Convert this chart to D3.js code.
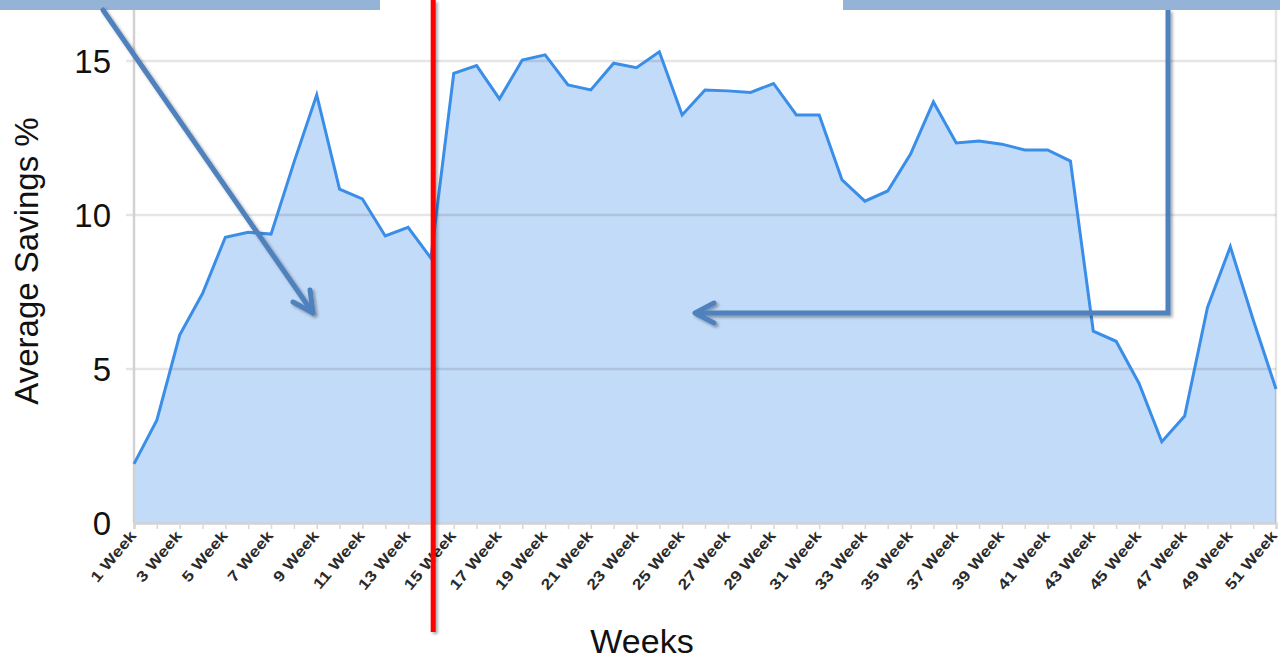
<!DOCTYPE html>
<html>
<head>
<meta charset="utf-8">
<script src="https://cdn.jsdelivr.net/npm/d3@7"></script>
<style>
  html, body { margin: 0; padding: 0; background: #fff; }
  svg { display: block; }
  text { font-family: "Liberation Sans", Arial, sans-serif; fill: #111; }
</style>
</head>
<body>
<svg id="chart" width="1280" height="659"></svg>
<script>
// ---- data ----
const weeks = d3.range(1, 52);
const savings = [
  1.92, 3.34, 6.1, 7.45, 9.28, 9.44, 9.38, 11.7, 13.9, 10.84,
  10.52, 9.32, 9.6, 8.6, 14.6, 14.85, 13.77, 15.03, 15.2, 14.22,
  14.06, 14.93, 14.78, 15.3, 13.25, 14.06, 14.03, 13.98, 14.27, 13.25,
  13.25, 11.14, 10.45, 10.78, 11.98, 13.67, 12.34, 12.4, 12.3, 12.11,
  12.11, 11.75, 6.23, 5.9, 4.54, 2.64, 3.47, 7.0, 8.97, 6.6,
  4.35
];
const yTicks = [0, 5, 10, 15];
const xLabelWeeks = d3.range(1, 52, 2);
const yTitle = "Average Savings %";
const xTitle = "Weeks";
const markerWeek = 14.1; // red separator between week 14 and 15

const svg = d3.select("#chart");
const x = d3.scaleLinear().domain([1, 51]).range([134, 1276]);
const y = d3.scaleLinear().domain([0, 15]).range([523, 61]);

const defs = svg.append("defs");
const sh = defs.append("filter").attr("id", "shadow")
  .attr("filterUnits", "userSpaceOnUse")
  .attr("x", 0).attr("y", 0).attr("width", 1280).attr("height", 659);
sh.append("feDropShadow").attr("dx", 2).attr("dy", 2).attr("stdDeviation", 1.5)
  .attr("flood-color", "#000").attr("flood-opacity", 0.35);

// area
const data = weeks.map((w, i) => ({ w, v: savings[i] }));
svg.append("path").datum(data)
  .attr("d", d3.area().x(d => x(d.w)).y0(y(0)).y1(d => y(d.v)))
  .attr("fill", "#c2dbf8");

// gridlines
svg.append("g").selectAll("line").data(yTicks.filter(t => t > 0)).join("line")
  .attr("x1", 126).attr("x2", x(51))
  .attr("y1", d => y(d)).attr("y2", d => y(d))
  .attr("stroke", "#000").attr("stroke-opacity", 0.1).attr("stroke-width", 2.5);

// right border
svg.append("line").attr("x1", x(51)).attr("x2", x(51)).attr("y1", 10).attr("y2", y(0))
  .attr("stroke", "#000").attr("stroke-opacity", 0.1).attr("stroke-width", 2.5);

// left axis line
svg.append("line").attr("x1", x(1)).attr("x2", x(1)).attr("y1", 10).attr("y2", y(0))
  .attr("stroke", "#d2d2d2").attr("stroke-width", 2.5);

// bottom axis with week ticks
const xAxis = d3.axisBottom(x).tickValues(weeks).tickSize(6).tickFormat("");
const gx = svg.append("g").attr("transform", `translate(0,${y(0)})`).call(xAxis);
gx.select(".domain").attr("stroke", "#d2d2d2").attr("stroke-width", 2.5);
gx.selectAll(".tick line").attr("stroke", "#d8d8d8").attr("stroke-width", 1.5);

// x tick labels rotated, slightly stretched along their baseline
svg.append("g").selectAll("text").data(xLabelWeeks).join("text")
  .attr("transform", d => `translate(${Math.min(x(d) + 3, 1278)},${y(0) + 13}) rotate(-50) scale(1.2,1)`)
  .attr("text-anchor", "end")
  .style("font-size", "15px")
  .style("font-weight", "bold")
  .style("fill", "#2a2a2a")
  .text(d => `${d} Week`);

// y tick labels
svg.append("g").selectAll("text").data(yTicks).join("text")
  .attr("x", 111).attr("y", d => y(d)).attr("dy", "0.36em")
  .attr("text-anchor", "end")
  .style("font-size", "33px")
  .text(d => d);

// line
svg.append("path").datum(data)
  .attr("d", d3.line().x(d => x(d.w)).y(d => y(d.v)))
  .attr("fill", "none").attr("stroke", "#3a8ee8").attr("stroke-width", 3)
  .attr("stroke-linejoin", "miter");

// titles
svg.append("text").attr("transform", "translate(38,261) rotate(-90)")
  .attr("text-anchor", "middle").style("font-size", "33px").text(yTitle);
svg.append("text").attr("x", 642).attr("y", 653)
  .attr("text-anchor", "middle").style("font-size", "34px").text(xTitle);

// red separator
svg.append("line").attr("x1", x(markerWeek)).attr("x2", x(markerWeek))
  .attr("y1", 0).attr("y2", 632)
  .attr("stroke", "#ff0000").attr("stroke-width", 5).attr("filter", "url(#shadow)");

// top banner boxes
svg.append("rect").attr("x", 0).attr("y", 0).attr("width", 380).attr("height", 10).attr("fill", "#95b3d7");
svg.append("rect").attr("x", 843).attr("y", 0).attr("width", 437).attr("height", 10).attr("fill", "#95b3d7");

// arrows
const arrowCol = "#4f81bd";
const ga = svg.append("g").attr("filter", "url(#shadow)")
  .attr("stroke", arrowCol).attr("stroke-width", 5).attr("fill", "none")
  .attr("stroke-linecap", "round").attr("stroke-linejoin", "round");
ga.append("path").attr("d", "M103,10 L313,313");
ga.append("path").attr("d", "M310,290 L313,313 L293,302");
ga.append("path").attr("d", "M1168,10 L1168,313 L695,313").attr("stroke-linecap", "butt").attr("stroke-linejoin", "miter");
ga.append("path").attr("d", "M714,303 L695,313 L714,323");
</script>
</body>
</html>
